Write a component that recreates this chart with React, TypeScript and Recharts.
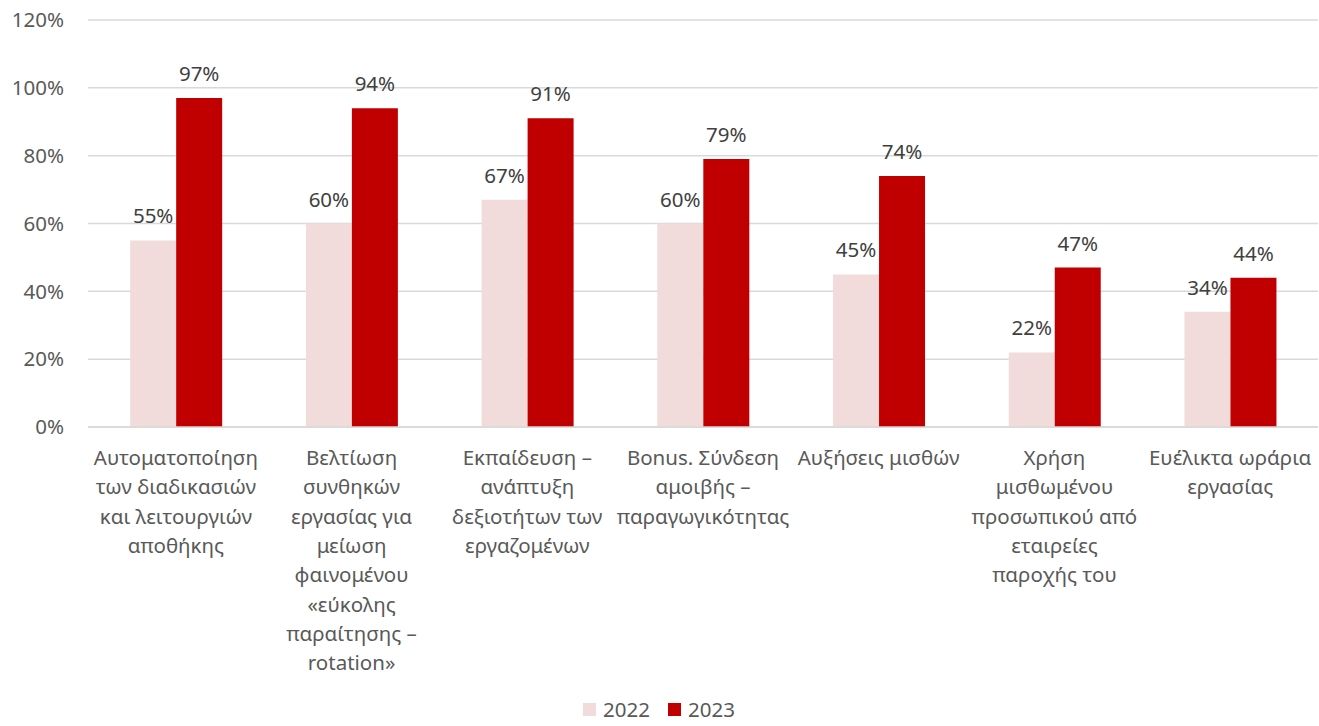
import React from "react";
import {
  BarChart,
  Bar,
  XAxis,
  YAxis,
  CartesianGrid,
  Legend,
  LabelList,
} from "recharts";

const categories = [
  "Αυτοματοποίηση\nτων διαδικασιών\nκαι λειτουργιών\nαποθήκης",
  "Βελτίωση\nσυνθηκών\nεργασίας για\nμείωση\nφαινομένου\n«εύκολης\nπαραίτησης –\nrotation»",
  "Εκπαίδευση –\nανάπτυξη\nδεξιοτήτων των\nεργαζομένων",
  "Bonus. Σύνδεση\nαμοιβής –\nπαραγωγικότητας",
  "Αυξήσεις μισθών",
  "Χρήση\nμισθωμένου\nπροσωπικού από\nεταιρείες\nπαροχής του",
  "Ευέλικτα ωράρια\nεργασίας",
];
const values2022 = [55, 60, 67, 60, 45, 22, 34];
const values2023 = [97, 94, 91, 79, 74, 47, 44];
const yTicks = [0, 20, 40, 60, 80, 100, 120];

const data = categories.map((name, i) => ({
  name,
  y2022: values2022[i],
  y2023: values2023[i],
}));

const FONT = "'Noto Sans', sans-serif";
const TEXT = "#595959";

const CategoryTick = ({ x, y, payload }: any) => {
  const lines = String(payload.value).split("\n");
  return (
    <text
      x={x}
      y={y}
      textAnchor="middle"
      fill={TEXT}
      fontSize={20.5}
      fontFamily={FONT}
    >
      {lines.map((l: string, i: number) => (
        <tspan key={i} x={x} dy={i === 0 ? 30 : 29.3}>
          {l}
        </tspan>
      ))}
    </text>
  );
};

const LegendContent = () => (
  <div
    style={{
      display: "flex",
      justifyContent: "center",
      gap: 18,
      fontFamily: FONT,
      fontSize: 20.5,
      lineHeight: "24px",
      color: TEXT,
      paddingTop: 10,
    }}
  >
    {[
      { name: "2022", color: "#f2dcdb" },
      { name: "2023", color: "#c00000" },
    ].map((it) => (
      <div key={it.name} style={{ display: "flex", alignItems: "center" }}>
        <span
          style={{
            width: 13,
            height: 13,
            background: it.color,
            display: "inline-block",
            marginRight: 7,
          }}
        />
        {it.name}
      </div>
    ))}
  </div>
);

export default function App() {
  return (
    <div style={{ position: "absolute", left: 0, top: 0, background: "#fff" }}>
      <BarChart
        width={1319}
        height={726}
        data={data}
        margin={{ top: 20, right: 1, left: 0, bottom: 0 }}
        barCategoryGap="24%"
        barGap={0}
      >
        <CartesianGrid vertical={false} stroke="#d9d9d9" strokeWidth={1.5} />
        <XAxis
          dataKey="name"
          height={260}
          interval={0}
          tickLine={false}
          axisLine={{ stroke: "#d9d9d9", strokeWidth: 1.5 }}
          tick={<CategoryTick />}
        />
        <YAxis
          width={88}
          domain={[0, 120]}
          ticks={yTicks}
          tickFormatter={(v) => `${v}%`}
          tickLine={false}
          axisLine={false}
          tickSize={0}
          tickMargin={24}
          tick={{ fill: TEXT, fontSize: 20.5, fontFamily: FONT }}
        />
        <Legend verticalAlign="bottom" height={39} content={<LegendContent />} />
        <Bar dataKey="y2022" name="2022" fill="#f2dcdb" isAnimationActive={false}>
          <LabelList
            dataKey="y2022"
            position="top"
            offset={17}
            formatter={(v: any) => `${v}%`}
            style={{ fill: "#404040", fontSize: 20.5, fontFamily: FONT }}
          />
        </Bar>
        <Bar dataKey="y2023" name="2023" fill="#c00000" isAnimationActive={false}>
          <LabelList
            dataKey="y2023"
            position="top"
            offset={17}
            formatter={(v: any) => `${v}%`}
            style={{ fill: "#404040", fontSize: 20.5, fontFamily: FONT }}
          />
        </Bar>
      </BarChart>
    </div>
  );
}
